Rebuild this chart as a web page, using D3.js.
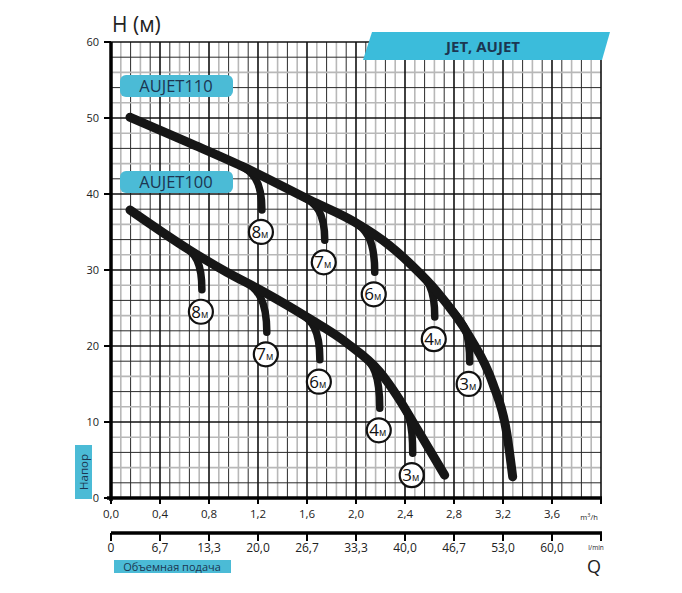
<!DOCTYPE html>
<html>
<head>
  <meta charset="UTF-8">
  <title>JET, AUJET</title>
  <style>
    body { margin: 0; background: #fff; }
    text { font-family: "Open Sans", "DejaVu Sans", sans-serif; }
  </style>
</head>
<body>
<svg id="chart"></svg>
<script src="https://d3js.org/d3.v7.min.js"></script>
<script>

// axis ticks and labels
var qTicks = [0, 0.4, 0.8, 1.2, 1.6, 2.0, 2.4, 2.8, 3.2, 3.6]
var qLabels = ["0,0", "0,4", "0,8", "1,2", "1,6", "2,0", "2,4", "2,8", "3,2", "3,6"]
var lpmLabels = ["0", "6,7", "13,3", "20,0", "26,7", "33,3", "40,0", "46,7", "53,0", "60,0"]
var hTicks = [0, 10, 20, 30, 40, 50, 60]

// main curves [Q m3/h, H m]
var aujet110 = [[0.155, 50.1], [0.644, 46.7], [1.077, 43.6], [1.623, 39.2], [1.99, 36.3],
  [2.276, 33.2], [2.463, 30.5], [2.659, 27.2], [2.928, 21.2], [3.116, 15.1], [3.23, 8.6], [3.279, 2.8]]
var aujet100 = [[0.155, 37.9], [0.644, 32.6], [0.946, 29.7], [1.215, 27.4], [1.599, 23.8],
  [1.925, 20.4], [2.194, 16.6], [2.333, 13.5], [2.48, 9.6], [2.724, 3.0]]

// suction depth branches: Q where they leave the main curve, and end point
var depths = ["8", "7", "6", "4", "3"]
var start110 = [1.04, 1.56, 1.97, 2.45, 2.76]
var end110 = [[1.232, 37.9], [1.745, 33.9], [2.153, 29.7], [2.643, 23.8], [2.928, 17.9]]
var start100 = [0.60, 1.08, 1.54, 2.05, 2.34]
var end100 = [[0.742, 27.4], [1.272, 21.8], [1.705, 18.2], [2.194, 11.8], [2.463, 5.9]]

var width = 682, height = 593
var cyan = "#4bbbd6", navy = "#1c3651"

var svg = d3.select("#chart")
  .attr("width", width)
  .attr("height", height)

var x = d3.scaleLinear().domain([0, 4]).range([111, 601])
var y = d3.scaleLinear().domain([0, 60]).range([498, 42])

// grid
var grid = svg.append("g")
var minorQ = d3.range(0, 50).map(i => i * 0.08)
minorQ.forEach((q, i) => {
  if (i % 5 == 0) return
  grid.append("line")
    .attr("x1", x(q)).attr("x2", x(q))
    .attr("y1", y(0)).attr("y2", y(60))
    .attr("stroke", i % 2 ? "#b8b8b8" : "#2a2a2a")
    .attr("stroke-width", i % 2 ? 1.6 : 1)
})
var minorH = d3.range(0, 30).map(i => i * 2)
minorH.forEach((h, i) => {
  if (i % 5 == 0) return
  grid.append("line")
    .attr("x1", x(0)).attr("x2", x(4))
    .attr("y1", y(h)).attr("y2", y(h))
    .attr("stroke", i % 2 ? "#2a2a2a" : "#b8b8b8")
    .attr("stroke-width", i % 2 ? 1 : 1.6)
})
qTicks.concat([4]).forEach(q => {
  grid.append("line")
    .attr("x1", x(q)).attr("x2", x(q))
    .attr("y1", y(0)).attr("y2", y(60))
    .attr("stroke", "#111").attr("stroke-width", 1.6)
})
hTicks.forEach(h => {
  grid.append("line")
    .attr("x1", x(0)).attr("x2", x(4))
    .attr("y1", y(h)).attr("y2", y(h))
    .attr("stroke", "#111").attr("stroke-width", 1.6)
})

// left axis
svg.append("line")
  .attr("x1", x(0)).attr("x2", x(0))
  .attr("y1", y(60)).attr("y2", y(0) + 3)
  .attr("stroke", "#000").attr("stroke-width", 3.5)
svg.selectAll(".hlab")
  .data(hTicks)
  .enter()
  .append("text")
    .attr("x", x(0) - 12)
    .attr("y", d => y(d) + 4)
    .attr("text-anchor", "end")
    .style("font-size", "11px")
    .style("fill", "#222")
    .text(d => d)
svg.selectAll(".htick")
  .data(hTicks)
  .enter()
  .append("line")
    .attr("x1", x(0) - 7).attr("x2", x(0))
    .attr("y1", d => y(d)).attr("y2", d => y(d))
    .attr("stroke", "#000").attr("stroke-width", 2)

// bottom axis m3/h
svg.append("line")
  .attr("x1", x(0) - 4).attr("x2", x(4) + 1)
  .attr("y1", y(0)).attr("y2", y(0))
  .attr("stroke", "#000").attr("stroke-width", 3.5)
svg.selectAll(".qtick")
  .data(qTicks.concat([4]))
  .enter()
  .append("line")
    .attr("x1", d => x(d)).attr("x2", d => x(d))
    .attr("y1", y(0)).attr("y2", y(0) + 6)
    .attr("stroke", "#000").attr("stroke-width", 2)
svg.selectAll(".qlab")
  .data(qTicks)
  .enter()
  .append("text")
    .attr("x", d => x(d))
    .attr("y", y(0) + 20)
    .attr("text-anchor", "middle")
    .style("font-size", "11.5px")
    .style("fill", "#222")
    .text((d, i) => qLabels[i])
var m3 = svg.append("text")
  .attr("x", x(4) - 12)
  .attr("y", y(0) + 22)
  .attr("text-anchor", "middle")
  .style("font-size", "7.5px")
  .style("fill", "#222")
m3.append("tspan").text("m")
m3.append("tspan").attr("dy", -3).style("font-size", "5.5px").text("3")
m3.append("tspan").attr("dy", 3).text("/h")

// bottom axis l/min
var ly = 533
svg.append("line")
  .attr("x1", x(0)).attr("x2", x(4) + 1)
  .attr("y1", ly).attr("y2", ly)
  .attr("stroke", "#000").attr("stroke-width", 3.5)
svg.selectAll(".ltick")
  .data(qTicks.concat([4]))
  .enter()
  .append("line")
    .attr("x1", d => x(d)).attr("x2", d => x(d))
    .attr("y1", ly).attr("y2", ly + 8)
    .attr("stroke", "#000").attr("stroke-width", 2)
svg.selectAll(".llab")
  .data(qTicks)
  .enter()
  .append("text")
    .attr("x", d => x(d))
    .attr("y", ly + 19)
    .attr("text-anchor", "middle")
    .style("font-size", "12px")
    .style("fill", "#222")
    .text((d, i) => lpmLabels[i])
svg.append("text")
  .attr("x", x(4) - 5).attr("y", ly + 17)
  .attr("text-anchor", "middle")
  .style("font-size", "6.5px")
  .style("fill", "#222")
  .text("l/min")
svg.append("text")
  .attr("x", x(4) - 7).attr("y", ly + 40)
  .attr("text-anchor", "middle")
  .style("font-size", "18px")
  .style("fill", "#222")
  .text("Q")

// title H (м)
svg.append("text")
  .attr("x", 112).attr("y", 32)
  .style("font-size", "21px")
  .style("fill", "#222")
  .text("H (м)")

// curves
var line = d3.line()
  .x(d => x(d[0]))
  .y(d => y(d[1]))
  .curve(d3.curveMonotoneX)

var curves = svg.append("g")
var branchG = curves.append("g")
var mainPaths = [aujet110, aujet100].map(c => {
  return curves.append("path")
    .attr("d", line(c))
    .attr("fill", "none")
    .attr("stroke", "#161616")
    .attr("stroke-width", 9)
    .attr("stroke-linecap", "round")
    .node()
})

// point of a main path at pixel x (binary search along its length)
function pointAtX(node, px) {
  var lo = 0, hi = node.getTotalLength()
  for (var n = 0; n < 40; n++) {
    var mid = (lo + hi) / 2
    if (node.getPointAtLength(mid).x < px) lo = mid
    else hi = mid
  }
  return node.getPointAtLength(lo)
}

// branch leaves the main curve along it and bends down to vertical
function branchPath(node, q, end) {
  var xs = x(q)
  var s = pointAtX(node, xs)
  var s2 = pointAtX(node, xs + 2)
  var k = (s2.y - s.y) / (s2.x - s.x)
  var xe = x(end[0]), ye = y(end[1])
  var dx = (xe - s.x) * 0.6
  var p = d3.path()
  p.moveTo(s.x, s.y)
  p.bezierCurveTo(s.x + dx, s.y + k * dx, xe, s.y + (ye - s.y) * 0.35, xe, ye)
  return p.toString()
}

function drawBranches(node, starts, ends) {
  starts.forEach((q, i) => {
    branchG.append("path")
      .attr("d", branchPath(node, q, ends[i]))
      .attr("fill", "none")
      .attr("stroke", "#161616")
      .attr("stroke-width", 7.5)
      .attr("stroke-linecap", "round")
  })
}
drawBranches(mainPaths[0], start110, end110)
drawBranches(mainPaths[1], start100, end100)

// depth labels under branch ends
function depthLabel(end, i) {
  var cx = x(end[0]) - 1, cy = y(end[1]) + 22
  var g = svg.append("g")
  g.append("circle")
    .attr("cx", cx).attr("cy", cy).attr("r", 12)
    .attr("fill", "#fff")
    .attr("stroke", "#111").attr("stroke-width", 2.2)
  var t = g.append("text")
    .attr("x", cx - 1).attr("y", cy + 6)
    .attr("text-anchor", "middle")
    .style("fill", "#111")
  t.append("tspan").style("font-size", "17px").text(depths[i])
  t.append("tspan").style("font-size", "10px").text("м")
}
end110.forEach(depthLabel)
end100.forEach(depthLabel)

// model boxes
function modelBox(name, top) {
  svg.append("rect")
    .attr("x", 120).attr("y", top)
    .attr("width", 113).attr("height", 22)
    .attr("rx", 6)
    .attr("fill", cyan)
  svg.append("text")
    .attr("x", 176).attr("y", top + 17)
    .attr("text-anchor", "middle")
    .style("font-size", "16.5px")
    .style("fill", navy)
    .text(name)
}
modelBox("AUJET110", 75)
modelBox("AUJET100", 171)

// JET, AUJET banner
svg.append("polygon")
  .attr("points", "372,32 610,32 602,60 363,60")
  .attr("fill", "#3bbcdb")
svg.append("text")
  .attr("x", 483).attr("y", 52)
  .attr("text-anchor", "middle")
  .style("font-size", "15px")
  .style("font-weight", "bold")
  .style("fill", navy)
  .text("JET, AUJET")

// Напор
svg.append("rect")
  .attr("x", 75).attr("y", 445)
  .attr("width", 17).attr("height", 54)
  .attr("fill", cyan)
svg.append("text")
  .attr("transform", "translate(88,472) rotate(-90)")
  .attr("text-anchor", "middle")
  .style("font-size", "11.5px")
  .style("fill", navy)
  .text("Напор")

// Объемная подача
svg.append("rect")
  .attr("x", 114).attr("y", 560)
  .attr("width", 117).attr("height", 13)
  .attr("fill", cyan)
svg.append("text")
  .attr("x", 172).attr("y", 570.5)
  .attr("text-anchor", "middle")
  .style("font-size", "11px")
  .style("fill", navy)
  .text("Объемная подача")

</script>
</body>
</html>
